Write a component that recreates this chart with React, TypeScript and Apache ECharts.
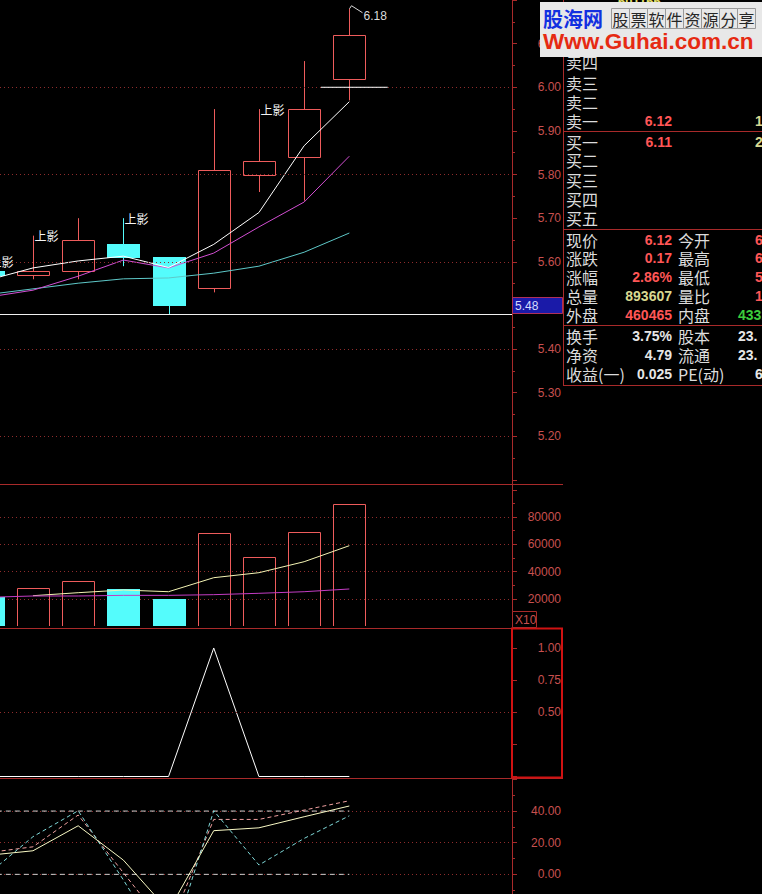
import React, { useEffect, useRef } from 'react';
import * as echarts from 'echarts';

// ---- daily bars (session index; 0 is the first fully visible bar) ----
const sessions = [-1, 0, 1, 2, 3, 4, 5, 6, 7];
const openPrices = [5.58, 5.57, 5.58, 5.64, 5.61, 5.54, 5.80, 5.84, 6.02];
const closePrices = [5.57, 5.58, 5.65, 5.61, 5.50, 5.81, 5.83, 5.95, 6.12];
const lowPrices = [5.55, 5.56, 5.56, 5.59, 5.48, 5.53, 5.76, 5.74, 5.97];
const highPrices = [5.60, 5.66, 5.70, 5.70, 5.61, 5.95, 5.95, 6.06, 6.18];
const upperShadowFlags = [1, 1, 0, 1, 0, 0, 1, 0, 0];
const upperShadowText = '上影';

// price moving averages
const ma3 = [5.558, 5.586, 5.602, 5.613, 5.587, 5.64, 5.713, 5.866, 5.967];
const ma5 = [5.519, 5.535, 5.567, 5.604, 5.586, 5.62, 5.68, 5.737, 5.842];
const ma10 = [5.525, 5.538, 5.551, 5.561, 5.563, 5.574, 5.59, 5.622, 5.666];

const lowMarkPrice = 5.48;
const openRefPrice = 6.0;
const openRefSpan = [6.37, 7.85];
const priceGridLevels = [5.2, 5.4, 5.6, 5.8, 6.0];

// ---- volume (x10) ----
const volumes = [21300, 27900, 33000, 27200, 19800, 68300, 50600, 69000, 89360];
const volMa5 = [null, 22240, 24440, 26400, 25170, 35450, 39120, 47190, 58940];
const volMa10 = [21060, 22020, 22020, 22500, 22500, 23000, 24000, 25170, 27160];

// ---- signal pane ----
const signal = [0, 0, 0, 0, 0, 1, 0, 0, 0];
const signalGridLevels = [0.5];

// ---- oscillator pane ----
const oscMain = [12.0, 14.9, 30.7, 9.0, -23.0, 27.6, 29.4, 36.4, 43.2];
const oscFast = [13.7, 17.4, 37.5, 1.0, -35.0, 34.7, 34.7, 40.6, 46.5];
const oscSwing = [0.0, 23.8, 40.2, -3.5, -50.0, 40.2, 5.9, 22.7, 37.0];
const oscRefLevels = [0, 40];

// ---- quote panel ----
const stockCode = '601166';
const askLabels = ['卖四', '卖三', '卖二', '卖一'];
const bidLabels = ['买一', '买二', '买三', '买四', '买五'];
const bestAsk = { price: '6.12', size: '1' };
const bestBid = { price: '6.11', size: '2' };
const quoteLabels = ['现价', '涨跌', '涨幅', '总量', '外盘'];
const quoteValues = ['6.12', '0.17', '2.86%', '893607', '460465'];
const quoteLabels2 = ['今开', '最高', '最低', '量比', '内盘'];
const quoteValues2 = ['6.02', '6.18', '5.97', '1', '433142'];
const fundLabels = ['换手', '净资', '收益(一)'];
const fundValues = ['3.75%', '4.79', '0.025'];
const fundLabels2 = ['股本', '流通', 'PE(动)'];
const fundValues2 = ['23.', '23.', '6'];

const siteName = '股海网';
const siteSlogan = '股票软件资源分享';
const siteUrl = 'Www.Guhai.com.cn';

// ---- styles ----
const RED = '#ee5c5c';
const CYAN = '#54fcfc';
const AXIS_RED = '#a82a2a';
const LABEL_RED = '#c8504f';
const DOT_RED = '#8e2c2c';
const NUM_FONT = '"Liberation Sans", Arial, sans-serif';
const CJK_FONT = '"Noto Sans CJK SC", sans-serif';
const X_MIN = -0.73;
const X_MAX = 10.6;

function pairs(values: (number | null)[]) {
  const out: number[][] = [];
  values.forEach((v, k) => {
    if (v !== null) out.push([sessions[k], v]);
  });
  return out;
}

function renderCandle(params: any, api: any) {
  const i = api.value(0);
  const o = api.value(1);
  const c = api.value(2);
  const l = api.value(3);
  const h = api.value(4);
  const tagged = api.value(5) > 0;
  const cx = api.coord([i, o])[0];
  const yO = api.coord([i, o])[1];
  const yC = api.coord([i, c])[1];
  const yL = api.coord([i, l])[1];
  const yH = api.coord([i, h])[1];
  const w = api.size([1, 0])[0] * 0.71;
  const x = Math.round(cx) + 0.5;
  const up = c >= o;
  const top = Math.round(Math.min(yO, yC));
  const bot = Math.max(Math.round(Math.max(yO, yC)), top + 2);
  const left = Math.round(cx - w / 2);
  const right = Math.round(cx + w / 2);
  const color = up ? RED : CYAN;
  const children: any[] = [
    { type: 'line', shape: { x1: x, y1: yH, x2: x, y2: top }, style: { stroke: color, lineWidth: 1 } },
    { type: 'line', shape: { x1: x, y1: bot, x2: x, y2: yL }, style: { stroke: color, lineWidth: 1 } },
  ];
  if (up) {
    children.push({
      type: 'rect',
      shape: { x: left + 0.5, y: top + 0.5, width: right - left, height: bot - top },
      style: { fill: 'none', stroke: RED, lineWidth: 1 },
    });
  } else {
    children.push({
      type: 'rect',
      shape: { x: left, y: top, width: right - left + 1, height: bot - top + 1 },
      style: { fill: CYAN },
    });
  }
  if (tagged) {
    children.push({
      type: 'text',
      x: x + 1,
      y: yH,
      style: {
        text: upperShadowText,
        fill: '#f4f4f4',
        fontSize: 12,
        lineHeight: 13,
        fontFamily: CJK_FONT,
        textAlign: 'left',
        align: 'left',
        textVerticalAlign: 'middle',
        verticalAlign: 'middle',
      },
    });
  }
  const maxHigh = Math.max(...highPrices);
  if (h === maxHigh) {
    children.push({
      type: 'polyline',
      shape: { points: [[x, yH], [x + 2, yH - 3], [x + 13, yH + 4]] },
      style: { stroke: '#d8d8d8', lineWidth: 1, fill: 'none' },
    });
    children.push({
      type: 'text',
      x: x + 14,
      y: yH + 7,
      style: {
        text: maxHigh.toFixed(2),
        fill: '#dcdcdc',
        fontSize: 12,
        fontFamily: NUM_FONT,
        textAlign: 'left',
        align: 'left',
        textVerticalAlign: 'middle',
        verticalAlign: 'middle',
      },
    });
  }
  return { type: 'group', children };
}

function renderVolume(params: any, api: any) {
  const i = api.value(0);
  const v = api.value(1);
  const up = api.value(2) > 0;
  const cx = api.coord([i, v])[0];
  const yTop = Math.round(api.coord([i, v])[1]);
  const y0 = Math.round(api.coord([i, 0])[1]);
  const w = api.size([1, 0])[0] * 0.71;
  const left = Math.round(cx - w / 2);
  const right = Math.round(cx + w / 2);
  if (up) {
    return {
      type: 'rect',
      shape: { x: left + 0.5, y: yTop + 0.5, width: right - left, height: y0 - yTop },
      style: { fill: 'none', stroke: RED, lineWidth: 1 },
    };
  }
  return {
    type: 'rect',
    shape: { x: left, y: yTop, width: right - left + 1, height: y0 - yTop + 1 },
    style: { fill: CYAN },
  };
}

function yAxisBase(gridIndex: number, min: number, max: number, interval: number, fmt: (v: number) => string, minor: boolean, split: boolean) {
  return {
    type: 'value',
    gridIndex,
    position: 'right',
    min,
    max,
    interval,
    axisLine: { show: true, onZero: false, lineStyle: { color: AXIS_RED, width: 1 } },
    axisTick: { show: true, length: 5, lineStyle: { color: AXIS_RED } },
    minorTick: { show: minor, splitNumber: 2, length: 3, lineStyle: { color: AXIS_RED } },
    axisLabel: {
      show: true,
      margin: 49,
      align: 'right',
      color: LABEL_RED,
      fontFamily: NUM_FONT,
      fontSize: 12,
      formatter: fmt,
    },
    splitLine: {
      show: split,
      showMinLine: false,
      showMaxLine: false,
      lineStyle: { color: DOT_RED, type: [1, 3], width: 1 },
    },
  };
}

function lineSeries(name: string, grid: number, values: (number | null)[], color: string, dashed = false, z = 3) {
  return {
    name,
    type: 'line',
    xAxisIndex: grid,
    yAxisIndex: grid,
    data: pairs(values),
    symbol: 'none',
    silent: true,
    z,
    lineStyle: { color, width: 1, type: dashed ? [4, 3] : 'solid' },
  };
}

function text(t: string, x: number, y: number, fill: string, size: number, opts: any = {}) {
  const align = opts.align || 'left';
  return {
    type: 'text',
    x,
    y,
    z: opts.z ?? 20,
    silent: true,
    style: {
      text: t,
      fill,
      fontSize: size,
      lineHeight: opts.lineHeight ?? Math.round(size + 1),
      fontFamily: opts.family || CJK_FONT,
      fontWeight: opts.weight || 'normal',
      textAlign: align,
      align,
      textVerticalAlign: 'middle',
      verticalAlign: 'middle',
    },
  };
}

function hline(x1: number, x2: number, y: number, color = AXIS_RED, z = 15) {
  return { type: 'line', z, silent: true, shape: { x1, y1: y + 0.5, x2, y2: y + 0.5 }, style: { stroke: color, lineWidth: 1 } };
}

function vline(x: number, y1: number, y2: number, color = AXIS_RED, z = 15) {
  return { type: 'line', z, silent: true, shape: { x1: x + 0.5, y1, x2: x + 0.5, y2 }, style: { stroke: color, lineWidth: 1 } };
}

function buildOption() {
  const grids = [
    { left: 0, top: 0, width: 512, height: 480 },
    { left: 0, top: 489.75, width: 512, height: 136.25 },
    { left: 0, top: 628.7, width: 512, height: 147.8 },
    { left: 0, top: 779.4, width: 512, height: 126.6 },
  ].map((g) => ({ ...g, outerBoundsMode: 'none', containLabel: false }));
  const xAxis = grids.map((_, k) => ({ type: 'value', gridIndex: k, min: X_MIN, max: X_MAX, show: false }));
  const yAxis = [
    yAxisBase(0, 5.1, 6.2, 0.1, (v) => (v > 5.15 && v < 6.15 ? v.toFixed(2) : ''), true, false),
    yAxisBase(1, 0, 100000, 20000, (v) => (v >= 20000 && v <= 80000 ? String(Math.round(v)) : ''), true, true),
    yAxisBase(2, 0, 1.15, 0.25, (v) => (v >= 0.49 && v <= 1.01 ? v.toFixed(2) : ''), false, false),
    yAxisBase(3, -20, 60, 20, (v) => (v >= -1 && v <= 41 ? v.toFixed(2) : ''), true, true),
  ];

  const candleData = sessions.map((s, k) => [s, openPrices[k], closePrices[k], lowPrices[k], highPrices[k], upperShadowFlags[k]]);
  const volumeData = sessions.map((s, k) => [s, volumes[k], closePrices[k] >= openPrices[k] ? 1 : 0]);

  const ma10Series: any = lineSeries('MA10', 0, ma10, '#5ec8c8');
  ma10Series.markLine = {
    silent: true,
    symbol: ['none', 'none'],
    animation: false,
    label: { show: false },
    data: [
      ...priceGridLevels.map((v) => ({ yAxis: v, lineStyle: { color: DOT_RED, type: [1, 3], width: 1 } })),
      { yAxis: lowMarkPrice, lineStyle: { color: '#f0f0f0', type: 'solid', width: 1 } },
    ],
  };

  const signalSeries: any = lineSeries('SIG', 2, signal, '#ffffff');
  signalSeries.markLine = {
    silent: true,
    symbol: ['none', 'none'],
    animation: false,
    label: { show: false },
    data: signalGridLevels.map((v) => ({ yAxis: v, lineStyle: { color: DOT_RED, type: [1, 3], width: 1 } })),
  };

  const series: any[] = [
    ma10Series,
    lineSeries('MA5', 0, ma5, '#d24ed2'),
    lineSeries('MA3', 0, ma3, '#ffffff', false, 4),
    {
      type: 'line',
      xAxisIndex: 0,
      yAxisIndex: 0,
      data: [[openRefSpan[0], openRefPrice], [openRefSpan[1], openRefPrice]],
      symbol: 'none',
      silent: true,
      z: 10,
      lineStyle: { color: '#ffffff', width: 1, type: 'solid' },
    },
    {
      type: 'custom',
      xAxisIndex: 0,
      yAxisIndex: 0,
      data: candleData,
      encode: { x: 0, y: [1, 2, 3, 4] },
      renderItem: renderCandle,
      clip: true,
      silent: true,
      z: 2,
    },
    {
      type: 'custom',
      xAxisIndex: 1,
      yAxisIndex: 1,
      data: volumeData,
      encode: { x: 0, y: 1 },
      renderItem: renderVolume,
      clip: true,
      silent: true,
      z: 2,
    },
    lineSeries('VMA5', 1, volMa5, '#f4f4b4'),
    lineSeries('VMA10', 1, volMa10, '#c33cc3'),
    signalSeries,
    ...oscRefLevels.map((lv) => ({
      type: 'line',
      xAxisIndex: 3,
      yAxisIndex: 3,
      data: sessions.map((s) => [s, lv]),
      symbol: 'none',
      silent: true,
      z: 2,
      lineStyle: { color: '#cfcfcf', width: 1, type: [5, 4] },
    })),
    lineSeries('OSC2', 3, oscFast, '#f0a0a0', true),
    lineSeries('OSC3', 3, oscSwing, '#7fd8d8', true),
    lineSeries('OSC1', 3, oscMain, '#f8f8c4', false, 4),
  ];

  return {
    animation: false,
    backgroundColor: '#000000',
    grid: grids,
    xAxis,
    yAxis,
    series,
  };
}

function buildGraphics(lowY: number) {
  const els: any[] = [];
  // frame
  els.push(vline(512, 0, 894));
  els.push(hline(0, 563, 484));
  els.push(hline(0, 563, 628));
  els.push(hline(0, 563, 778));
  els.push(vline(563, 0, 385));
  [131, 229, 325, 385].forEach((y) => els.push(hline(563, 762, y)));
  // highlighted pane box
  els.push({
    type: 'rect',
    z: 16,
    silent: true,
    shape: { x: 512, y: 628.5, width: 50, height: 149 },
    style: { fill: 'none', stroke: '#d01212', lineWidth: 2 },
  });
  // volume unit tag
  els.push({
    type: 'rect',
    z: 16,
    silent: true,
    shape: { x: 512.5, y: 611.5, width: 24, height: 16 },
    style: { fill: '#000', stroke: AXIS_RED, lineWidth: 1 },
  });
  els.push(text('X10', 515, 620, LABEL_RED, 12, { family: NUM_FONT, z: 17 }));
  // low mark tag
  els.push({
    type: 'rect',
    z: 16,
    silent: true,
    shape: { x: 512.5, y: Math.round(lowY) - 16.5, width: 50, height: 16 },
    style: { fill: '#1a1aa8', stroke: '#b0305a', lineWidth: 1 },
  });
  els.push(text(lowMarkPrice.toFixed(2), 515, Math.round(lowY) - 8, '#d6dcff', 12, { family: NUM_FONT, z: 17 }));

  // quote panel
  els.push(text(stockCode, 618, 1, '#e6e06a', 13, { family: NUM_FONT, weight: 'bold', z: 18 }));
  const askY = [62, 83, 102, 121];
  const bidY = [142, 160, 180, 199, 218];
  askLabels.forEach((t, k) => els.push(text(t, 566, askY[k], '#dcdcdc', 16)));
  bidLabels.forEach((t, k) => els.push(text(t, 566, bidY[k], '#dcdcdc', 16)));
  els.push(text(bestAsk.price, 672, 121, '#ff5656', 14, { family: NUM_FONT, weight: 'bold', align: 'right' }));
  els.push(text(bestAsk.size, 755, 121, '#d8d890', 14, { family: NUM_FONT, weight: 'bold' }));
  els.push(text(bestBid.price, 672, 142, '#ff5656', 14, { family: NUM_FONT, weight: 'bold', align: 'right' }));
  els.push(text(bestBid.size, 755, 142, '#d8d890', 14, { family: NUM_FONT, weight: 'bold' }));

  const quoteY = [240, 258, 277, 296, 315];
  const quoteColors = ['#ff5656', '#ff5656', '#ff5656', '#d8d890', '#ff5656'];
  const quoteColors2 = ['#ff5656', '#ff5656', '#ff5656', '#ff5656', '#3ccc3c'];
  const quoteStart2 = [755, 755, 755, 755, 738];
  quoteLabels.forEach((t, k) => {
    els.push(text(t, 566, quoteY[k], '#dcdcdc', 16));
    els.push(text(quoteValues[k], 672, quoteY[k], quoteColors[k], 14, { family: NUM_FONT, weight: 'bold', align: 'right' }));
    els.push(text(quoteLabels2[k], 678, quoteY[k], '#dcdcdc', 16));
    els.push(text(quoteValues2[k], quoteStart2[k], quoteY[k], quoteColors2[k], 14, { family: NUM_FONT, weight: 'bold' }));
  });
  const fundY = [336, 355, 374];
  const fundStart2 = [738, 738, 755];
  fundLabels.forEach((t, k) => {
    els.push(text(t, 566, fundY[k], '#dcdcdc', 16));
    els.push(text(fundValues[k], 672, fundY[k], '#e6e6e6', 14, { family: NUM_FONT, weight: 'bold', align: 'right' }));
    els.push(text(fundLabels2[k], 678, fundY[k], '#dcdcdc', 16));
    els.push(text(fundValues2[k], fundStart2[k], fundY[k], '#e6e6e6', 14, { family: NUM_FONT, weight: 'bold' }));
  });

  // site banner
  els.push({
    type: 'rect',
    z: 30,
    silent: true,
    shape: { x: 540, y: 2, width: 222, height: 55 },
    style: { fill: '#e8e8e8' },
  });
  els.push(text(siteName, 543, 18, '#1230e0', 20, { weight: 'bold', z: 31 }));
  siteSlogan.split('').forEach((ch, k) => {
    els.push({
      type: 'rect',
      z: 31,
      silent: true,
      shape: { x: 611.5 + k * 18, y: 8.5, width: 18, height: 20 },
      style: { fill: 'none', stroke: '#9a9a9a', lineWidth: 1 },
    });
    els.push(text(ch, 620.5 + k * 18, 18.5, '#262626', 16, { align: 'center', z: 32 }));
  });
  els.push(text(siteUrl, 543, 41, '#e62a12', 22.5, { family: NUM_FONT, weight: 'bold', z: 31 }));
  return els;
}

export default function App() {
  const ref = useRef<HTMLDivElement>(null);
  useEffect(() => {
    if (!ref.current) return;
    const chart = echarts.init(ref.current, null, { renderer: 'svg' });
    chart.setOption(buildOption() as any);
    const lowY = chart.convertToPixel({ yAxisIndex: 0 } as any, lowMarkPrice) as unknown as number;
    chart.setOption({ graphic: buildGraphics(lowY) } as any);
    return () => chart.dispose();
  }, []);
  return (
    <div
      ref={ref}
      style={{ position: 'fixed', left: 0, top: 0, width: 762, height: 894, background: '#000' }}
    />
  );
}
